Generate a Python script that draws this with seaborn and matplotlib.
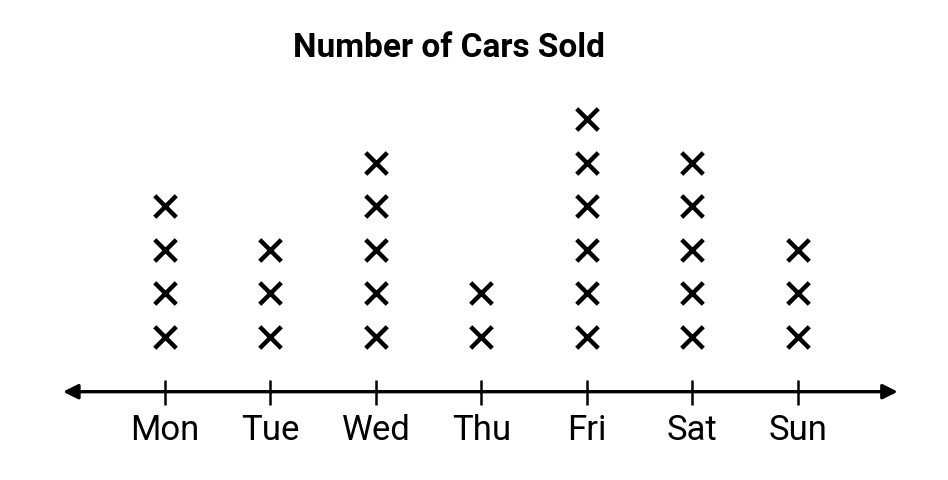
import pandas as pd
import seaborn as sns
import matplotlib.pyplot as plt

# Data
days = ['Mon', 'Tue', 'Wed', 'Thu', 'Fri', 'Sat', 'Sun']
cars_sold = [4, 3, 5, 2, 6, 5, 3]
title = 'Number of Cars Sold'

# one row per X mark, stacked from 1 up to the count
rows = []
for i, (day, n) in enumerate(zip(days, cars_sold)):
    for level in range(1, n + 1):
        rows.append({'pos': i, 'day': day, 'level': level})
df = pd.DataFrame(rows)

sns.set_theme(style='white')
plt.rcParams['font.family'] = ['Roboto', 'DejaVu Sans']
plt.rcParams['text.color'] = 'black'
plt.rcParams['xtick.color'] = 'black'
plt.rcParams['xtick.labelcolor'] = 'black'

fig = plt.figure(figsize=(9.48, 4.8), dpi=100)
ax = fig.add_axes([0, 0, 1, 1])

sns.scatterplot(data=df, x='pos', y='level', marker='x', color='black',
                s=240, linewidth=3.2, ax=ax, legend=False)

# scales chosen so the dot plot sits where the reference puts it
ax.set_xlim(-1.564, 7.422)
ax.set_ylim(-2.294, 8.74)
axis_y = -0.264

for s in ax.spines.values():
    s.set_visible(False)
ax.spines['bottom'].set_position(('data', axis_y))

ax.set_xticks(range(len(days)))
ax.set_xticklabels(days, fontsize=25)
ax.set_yticks([])
ax.tick_params(axis='x', direction='inout', length=18, width=1.8,
               color='black', labelcolor='black', pad=7, bottom=True)
ax.set_xlabel('')
ax.set_ylabel('')

# number line with arrowheads on both ends
ax.annotate('', xy=(0.0665, axis_y), xytext=(0.947, axis_y),
            xycoords=('axes fraction', 'data'), textcoords=('axes fraction', 'data'),
            arrowprops=dict(arrowstyle='<|-|>', color='black', lw=2.4,
                            mutation_scale=22, shrinkA=0, shrinkB=0))

fig.text(0.474, 0.881, title, ha='center', va='baseline', color='black',
         fontsize=24, fontweight='bold')

fig.savefig('out.png', dpi=100, facecolor='white')
